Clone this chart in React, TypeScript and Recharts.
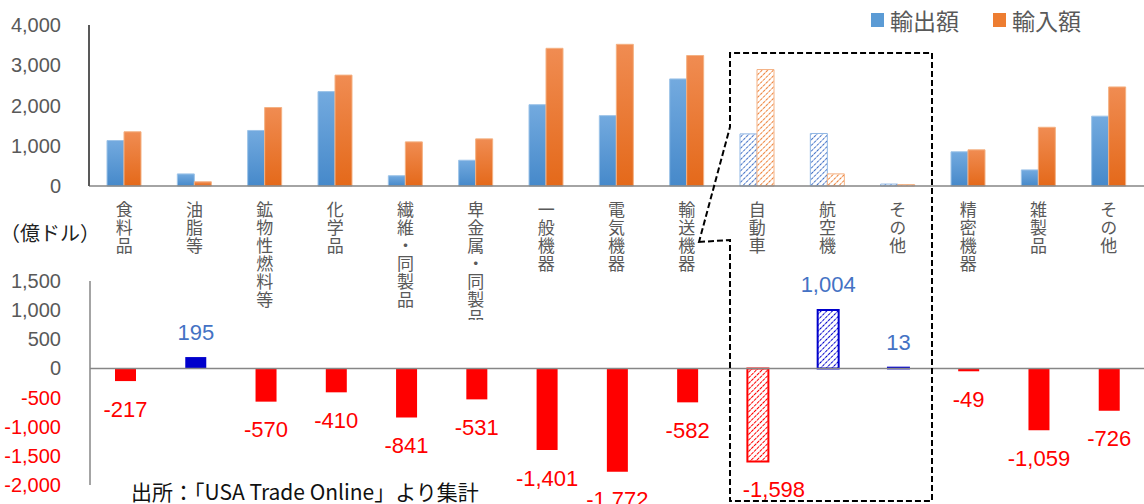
import React from "react";
import { BarChart, Bar, XAxis, YAxis, Cell, LabelList, ReferenceLine } from "recharts";

// 品目（輸送機器の内訳 = 自動車・航空機・その他）
const categories = [
  "食料品", "油脂等", "鉱物性燃料等", "化学品", "繊維・同製品", "卑金属・同製品",
  "一般機器", "電気機器", "輸送機器", "自動車", "航空機", "その他",
  "精密機器", "雑製品", "その他",
];
const exportsValues = [1130, 300, 1380, 2345, 255, 640, 2020, 1748, 2660, 1295, 1305, 48, 850, 400, 1735];
const importsValues = [1347, 105, 1950, 2755, 1096, 1171, 3421, 3520, 3242, 2893, 301, 35, 899, 1459, 2461];
const balanceValues = [-217, 195, -570, -410, -841, -531, -1401, -1772, -582, -1598, 1004, 13, -49, -1059, -726];
const breakdownIdx = [9, 10, 11];

const topTicks = [0, 1000, 2000, 3000, 4000];
const bottomTicks = [-2000, -1500, -1000, -500, 0, 500, 1000, 1500];
const seriesNames = ["輸出額", "輸入額"];

const topData = categories.map((name, i) => ({
  name,
  exports: exportsValues[i],
  imports: importsValues[i],
}));
const balData = categories.map((name, i) => ({ name, balance: balanceValues[i] }));

const NUM_FONT = "'Liberation Sans', 'Noto Sans CJK JP', sans-serif";
const JP_FONT = "'Noto Sans CJK JP', sans-serif";
const GRAY = "#595959";

const fmt = (v: number) => {
  const s = String(Math.abs(v)).replace(/\B(?=(\d{3})+(?!\d))/g, ",");
  return v < 0 ? "-" + s : s;
};

const NumTick = (props: any) => {
  const v = props.payload.value;
  return (
    <text x={61} y={props.y} textAnchor="end" dominantBaseline="central"
      fontSize={20} fontFamily={NUM_FONT} fill={v < 0 ? "#FF0000" : GRAY}>
      {fmt(v)}
    </text>
  );
};

// 縦書きの品目ラベル
const CatTick = (props: any) => (
  <text x={props.x} y={201} textAnchor="start"
    style={{ writingMode: "vertical-rl", letterSpacing: 1 } as any}
    fontSize={17} fontFamily={JP_FONT} fill={GRAY}>
    {props.payload.value}
  </text>
);

const BalLabel = (props: any) => {
  const { x, y, width, height, value, index } = props;
  const top = Math.min(y, y + height);
  const bottom = Math.max(y, y + height);
  const neg = value < 0;
  // 自動車のラベルは破線枠にかからないよう右へ寄せる
  const dx = index === 9 ? 16 : 0;
  return (
    <text x={x + width / 2 + dx} y={neg ? bottom + 28 : top - 25} textAnchor="middle" dominantBaseline="central"
      fontSize={22} fontFamily={NUM_FONT} fill={neg ? "#FF0000" : "#4472C4"}>
      {fmt(value)}
    </text>
  );
};

export default function App() {
  return (
    <div style={{ position: "absolute", left: 0, top: 0, width: 1144, height: 504, background: "#fff", overflow: "hidden" }}>
      {/* 上段: 輸出額・輸入額 */}
      <div style={{ position: "absolute", left: 0, top: 0 }}>
        <BarChart width={1144} height={320} data={topData} margin={{ top: 25, right: 0, left: 0, bottom: 0 }}
          barGap={0} barSize={17}>
          <defs>
            <linearGradient id="gBlue" x1="0" y1="0" x2="0" y2="1">
              <stop offset="0%" stopColor="#73AADF" />
              <stop offset="100%" stopColor="#4689CA" />
            </linearGradient>
            <linearGradient id="gOrange" x1="0" y1="0" x2="0" y2="1">
              <stop offset="0%" stopColor="#F08C52" />
              <stop offset="100%" stopColor="#E4691A" />
            </linearGradient>
            <pattern id="hBlue" width="4" height="4" patternUnits="userSpaceOnUse" patternTransform="rotate(45)">
              <rect width="4" height="4" fill="#fff" />
              <line x1="0" y1="0" x2="0" y2="4" stroke="#3F6FC6" strokeWidth="2" strokeDasharray="1.5 1" />
            </pattern>
            <pattern id="hOrange" width="4" height="4" patternUnits="userSpaceOnUse" patternTransform="rotate(45)">
              <rect width="4" height="4" fill="#fff" />
              <line x1="0" y1="0" x2="0" y2="4" stroke="#ED7D31" strokeWidth="2" strokeDasharray="1.5 1" />
            </pattern>
          </defs>
          <XAxis dataKey="name" height={134} interval={0} tick={<CatTick />} tickLine={false}
            axisLine={{ stroke: "#868686", strokeWidth: 1.5 }} />
          <YAxis width={89} domain={[0, 4000]} ticks={topTicks} tick={<NumTick />} tickLine={false}
            axisLine={{ stroke: GRAY, strokeWidth: 2 }} />
          <Bar dataKey="exports" isAnimationActive={false} strokeWidth={1}>
            {topData.map((_, i) => (
              <Cell key={i} fill={breakdownIdx.includes(i) ? "url(#hBlue)" : "url(#gBlue)"}
                stroke={breakdownIdx.includes(i) ? "#8FB6E4" : "#9CC3E8"} />
            ))}
          </Bar>
          <Bar dataKey="imports" isAnimationActive={false} strokeWidth={1}>
            {topData.map((_, i) => (
              <Cell key={i} fill={breakdownIdx.includes(i) ? "url(#hOrange)" : "url(#gOrange)"}
                stroke="#F4B183" />
            ))}
          </Bar>
        </BarChart>
      </div>

      {/* 下段: 収支 */}
      <div style={{ position: "absolute", left: 0, top: 0 }}>
        <BarChart width={1144} height={504} data={balData} margin={{ top: 281, right: 0, left: 0, bottom: 19 }}
          barSize={21}>
          <defs>
            <pattern id="hRed" width="4" height="4" patternUnits="userSpaceOnUse" patternTransform="rotate(45)">
              <rect width="4" height="4" fill="#fff" />
              <line x1="0" y1="0" x2="0" y2="4" stroke="#FF0000" strokeWidth="2" strokeDasharray="2 0.8" />
            </pattern>
            <pattern id="hNavy" width="4" height="4" patternUnits="userSpaceOnUse" patternTransform="rotate(45)">
              <rect width="4" height="4" fill="#fff" />
              <line x1="0" y1="0" x2="0" y2="4" stroke="#0000CC" strokeWidth="2" strokeDasharray="1.5 1" />
            </pattern>
          </defs>
          <XAxis dataKey="name" hide />
          <YAxis width={90} domain={[-2000, 1500]} ticks={bottomTicks} tick={<NumTick />} tickLine={false}
            axisLine={{ stroke: "#868686", strokeWidth: 1.5 }} />
          <ReferenceLine y={0} stroke="#868686" strokeWidth={1.5} />
          <Bar dataKey="balance" isAnimationActive={false}>
            {balData.map((d, i) => {
              const hatched = breakdownIdx.includes(i);
              const neg = d.balance < 0;
              const solid = neg ? "#FF0000" : "#0000CC";
              return (
                <Cell key={i}
                  fill={hatched ? (neg ? "url(#hRed)" : "url(#hNavy)") : solid}
                  stroke={hatched ? solid : "none"} strokeWidth={hatched ? 2 : 0} />
              );
            })}
            <LabelList dataKey="balance" content={<BalLabel />} />
          </Bar>
        </BarChart>
      </div>

      {/* 輸送機器の内訳を示す破線 */}
      <svg width={1144} height={504} style={{ position: "absolute", left: 0, top: 0, pointerEvents: "none" }}>
        <path d="M699,242 L730,240 L730,501 L932,501 L932,53 L730,53 L730,127 Z"
          fill="none" stroke="#000" strokeWidth={2} strokeDasharray="6 3" />
      </svg>

      {/* 凡例 */}
      <div style={{ position: "absolute", left: 871, top: 5, display: "flex", alignItems: "center",
        fontFamily: JP_FONT, fontSize: 23, color: GRAY, lineHeight: "30px" }}>
        {seriesNames.map((n, i) => (
          <div key={n} style={{ display: "flex", alignItems: "center", marginRight: i === 0 ? 34 : 0 }}>
            <span style={{ display: "inline-block", width: 13, height: 14, marginRight: 6,
              background: i === 0 ? "#5B9BD5" : "#ED7D31" }} />
            <span>{n}</span>
          </div>
        ))}
      </div>

      <div style={{ position: "absolute", left: 0, top: 220, fontFamily: JP_FONT, fontSize: 20, color: "#222",
        lineHeight: "26px", whiteSpace: "nowrap" }}>
        （億ドル）
      </div>
      <div style={{ position: "absolute", left: 131, top: 478, fontFamily: JP_FONT, fontSize: 21, color: "#111",
        lineHeight: "26px", whiteSpace: "nowrap" }}>
        出所：「USA Trade Online」より集計
      </div>
    </div>
  );
}
